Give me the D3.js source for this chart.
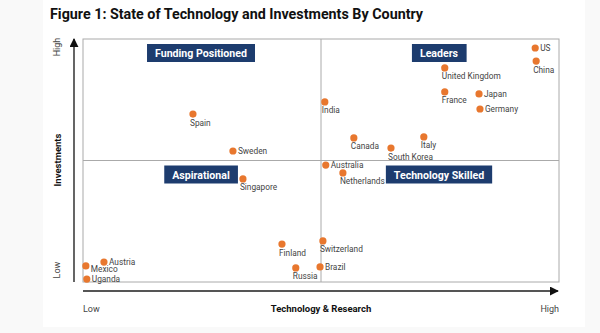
<!DOCTYPE html>
<html>
<head>
<meta charset="utf-8">
<script src="https://cdn.jsdelivr.net/npm/d3@7"></script>
<style>
  html, body { margin: 0; padding: 0; background: #f9f9f9; }
  svg { display: block; font-family: Roboto, "Liberation Sans", sans-serif; }
</style>
</head>
<body>
<svg id="chart" width="600" height="333"></svg>
<script>
// ---- data ----
const countries = ["US", "China", "United Kingdom", "France", "Japan", "Germany", "India",
  "Canada", "South Korea", "Italy", "Australia", "Netherlands", "Switzerland", "Brazil",
  "Spain", "Sweden", "Singapore", "Finland", "Russia", "Austria", "Mexico", "Uganda"];
const techResearch = [95, 95.2, 76, 76, 83.2, 83.4, 50.8, 56.9, 64.7, 71.6, 51, 54.6, 50.4, 49.8,
  23.1, 31.5, 33.6, 41.8, 44.7, 4.4, 0.6, 0.8];
const investments = [96.3, 90.9, 88.1, 78.2, 77.4, 71.2, 74.1, 59.3, 55.1, 59.7, 48.1, 44.9, 16.9, 6.2,
  69.1, 53.9, 42.4, 15.6, 5.8, 8.2, 6.6, 1.2];
const labelSide = ["right", "below", "below", "below", "right", "right", "below",
  "below", "below", "below", "right", "below", "below", "right",
  "below", "right", "below", "below", "below", "right", "belowright", "right"];
const quadrants = ["Funding Positioned", "Leaders", "Aspirational", "Technology Skilled"];
const quadrantX = [25, 75, 25, 75];
const quadrantY = [100, 100, 50, 50];
const title = "Figure 1: State of Technology and Investments By Country";
const xAxisTitle = "Technology & Research";
const yAxisTitle = "Investments";
const axisEnds = ["Low", "High"];

// ---- layout ----
const svg = d3.select("#chart");
svg.append("rect").attr("x", 43).attr("y", 0).attr("width", 542).attr("height", 327).attr("fill", "#fff");

const x = d3.scaleLinear().domain([0, 100]).range([83, 559]);
const y = d3.scaleLinear().domain([0, 100]).range([282, 39]);

svg.append("text").attr("x", 50).attr("y", 19)
  .attr("font-size", 14.3).attr("font-weight", 700).attr("fill", "#111")
  .text(title);

// plot box & midlines
svg.append("rect").attr("x", x(0)).attr("y", y(100)).attr("width", x(100) - x(0)).attr("height", y(0) - y(100))
  .attr("fill", "none").attr("stroke", "#aaa").attr("stroke-width", 1);
svg.append("line").attr("x1", x(50)).attr("x2", x(50)).attr("y1", y(0)).attr("y2", y(100))
  .attr("stroke", "#aaa").attr("stroke-width", 1);
svg.append("line").attr("x1", x(0)).attr("x2", x(100)).attr("y1", y(50)).attr("y2", y(50))
  .attr("stroke", "#aaa").attr("stroke-width", 1);

// arrows
const defs = svg.append("defs");
defs.append("marker").attr("id", "arr").attr("viewBox", "0 0 10 10").attr("refX", 9).attr("refY", 5)
  .attr("markerWidth", 9).attr("markerHeight", 9).attr("markerUnits", "userSpaceOnUse").attr("orient", "auto")
  .append("path").attr("d", "M0,0 L10,5 L0,10 Z").attr("fill", "#111");
svg.append("line").attr("x1", 74).attr("x2", 74).attr("y1", y(0)).attr("y2", y(100))
  .attr("stroke", "#555").attr("stroke-width", 1.8).attr("marker-end", "url(#arr)");
svg.append("line").attr("x1", x(0)).attr("x2", x(100) - 1).attr("y1", 291).attr("y2", 291)
  .attr("stroke", "#555").attr("stroke-width", 1.8).attr("marker-end", "url(#arr)");

// axis text
svg.append("text").attr("x", x(0)).attr("y", 312).attr("font-size", 9).attr("fill", "#444").text(axisEnds[0]);
svg.append("text").attr("x", x(100)).attr("y", 312).attr("font-size", 9).attr("fill", "#444")
  .attr("text-anchor", "end").text(axisEnds[1]);
svg.append("text").attr("x", x(50)).attr("y", 312).attr("font-size", 9.5).attr("font-weight", 700)
  .attr("fill", "#111").attr("text-anchor", "middle").text(xAxisTitle);

function vtext(cx, cy, txt, size, weight, color) {
  svg.append("text").attr("transform", `translate(${cx},${cy}) rotate(-90)`)
    .attr("text-anchor", "middle").attr("dominant-baseline", "central")
    .attr("font-size", size).attr("font-weight", weight).attr("fill", color).text(txt);
}
vtext(57, 47, axisEnds[1], 9, 400, "#444");
vtext(57, 270, axisEnds[0], 9, 400, "#444");
vtext(57, 160, yAxisTitle, 9.5, 700, "#111");

// quadrant labels
quadrants.forEach((q, i) => {
  const g = svg.append("g");
  const t = g.append("text").attr("x", x(quadrantX[i]) - 1).attr("y", y(quadrantY[i]) + 5 + 13)
    .attr("text-anchor", "middle").attr("font-size", 10.6).attr("font-weight", 700).attr("fill", "#fff").text(q);
  const bb = t.node().getBBox();
  g.insert("rect", "text").attr("x", bb.x - 8).attr("y", y(quadrantY[i]) + 5).attr("width", bb.width + 16)
    .attr("height", 18).attr("fill", "#1d3c6e");
});

// points
const pts = svg.append("g");
countries.forEach((c, i) => {
  const px = x(techResearch[i]), py = y(investments[i]);
  pts.append("circle").attr("cx", px).attr("cy", py).attr("r", 3.6).attr("fill", "#e8772e");
  const t = pts.append("text").attr("font-size", 8.3).attr("fill", "#444").text(c);
  const side = labelSide[i];
  if (side === "right") t.attr("x", px + 5).attr("y", py + 3);
  else if (side === "below") t.attr("x", px - 3).attr("y", py + 11.5);
  else t.attr("x", px + 5).attr("y", py + 6.5);
});
</script>
</body>
</html>
